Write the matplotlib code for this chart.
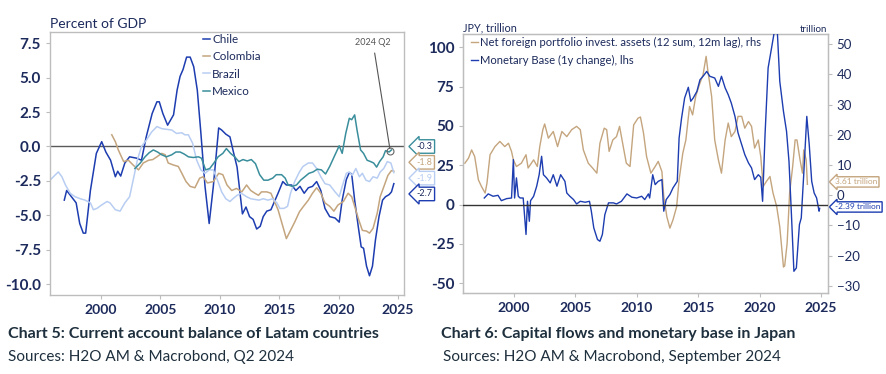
#!/usr/bin/env python3
import matplotlib
matplotlib.use('Agg')
import matplotlib.pyplot as plt
from matplotlib import transforms

plt.rcParams['font.family'] = ['Lato', 'DejaVu Sans']

NAVY = '#1c2a5c'
GRID = '#bdbdbd'
C_CHILE = '#1d3db0'
C_COL = '#c4a57e'
C_BRA = '#b8cdf2'
C_MEX = '#3a8e9c'

# ---- chart 5: current account, % of GDP ----
chile_x = [1996.9, 1997.1, 1997.5, 1997.9, 1998.2, 1998.5, 1998.7, 1999.1, 1999.6, 2000.05,
           2000.4, 2000.8, 2001.2, 2001.4, 2001.65, 2002.0, 2002.4, 2003.0, 2003.4, 2003.8,
           2004.3, 2004.7, 2004.9, 2005.2, 2005.6, 2006.1, 2006.4, 2006.65, 2006.9, 2007.2,
           2007.5, 2007.8, 2008.1, 2008.4, 2008.75, 2009.1, 2009.45, 2009.9, 2010.15, 2010.5,
           2010.85, 2011.1, 2011.45, 2011.7, 2011.9, 2012.2, 2012.5, 2012.8, 2013.1, 2013.4,
           2013.65, 2013.95, 2014.3, 2014.55, 2014.9, 2015.3, 2015.6, 2016.05, 2016.4, 2016.75,
           2017.1, 2017.45, 2017.8, 2018.15, 2018.5, 2018.85, 2019.25, 2019.7, 2020.05, 2020.3,
           2020.65, 2020.9, 2021.1, 2021.35, 2021.65, 2021.9, 2022.1, 2022.35, 2022.6, 2022.85,
           2023.1, 2023.4, 2023.7, 2023.95, 2024.25, 2024.45, 2024.65]
chile_y = [-3.9, -3.2, -3.65, -4.1, -5.6, -6.3, -6.3, -3.2, -0.5, 0.35,
           -0.4, -1.0, -2.2, -1.8, -2.15, -1.2, -0.75, -0.85, -1.0, 0.7,
           2.4, 3.25, 3.25, 2.4, 1.55, 2.3, 4.1, 5.1, 5.6, 6.5,
           6.5, 5.8, 4.1, 1.0, -2.9, -5.6, -2.9, 1.35, 1.2, 0.9,
           0.7, -0.25, -1.5, -3.4, -4.9, -4.4, -5.1, -5.3, -6.0, -5.8,
           -5.1, -4.7, -4.6, -4.1, -3.4, -2.55, -2.8, -2.8, -3.2, -2.9,
           -3.4, -3.0, -2.9, -2.55, -3.2, -4.5, -5.1, -5.2, -5.5, -3.9,
           -2.4, -1.9, -2.0, -3.9, -5.8, -7.3, -7.4, -8.7, -9.4, -8.7,
           -6.8, -5.1, -3.9, -3.65, -3.5, -3.3, -2.7]

colombia_x = [2000.9, 2001.2, 2001.45, 2001.9, 2002.3, 2002.7, 2003.15, 2003.55, 2004.0, 2004.35,
              2004.7, 2005.1, 2005.4, 2005.65, 2006.1, 2006.5, 2006.8, 2007.15, 2007.5, 2007.9,
              2008.3, 2008.6, 2008.95, 2009.45, 2009.9, 2010.25, 2010.6, 2011.0, 2011.4, 2011.85,
              2012.25, 2012.6, 2012.95, 2013.25, 2013.5, 2013.95, 2014.3, 2014.6, 2014.9, 2015.3,
              2015.6, 2015.95, 2016.3, 2016.7, 2017.0, 2017.45, 2017.8, 2018.15, 2018.5, 2018.85,
              2019.25, 2019.6, 2019.95, 2020.4, 2020.8, 2021.1, 2021.35, 2021.7, 2022.0, 2022.35,
              2022.6, 2022.9, 2023.25, 2023.5, 2023.9, 2024.15, 2024.45, 2024.65]
colombia_y = [0.85, 0.35, -0.25, -1.1, -1.0, -1.35, -1.7, -1.2, -1.0, -0.95,
              -0.75, -0.5, -0.6, -1.2, -1.35, -1.45, -1.95, -2.55, -2.9, -3.0,
              -2.3, -2.2, -2.65, -2.55, -1.95, -2.05, -2.8, -3.2, -3.05, -3.3,
              -2.8, -3.2, -3.4, -3.55, -3.3, -3.3, -3.4, -4.0, -4.6, -5.8,
              -6.7, -6.1, -5.5, -4.75, -4.4, -3.9, -3.4, -3.0, -3.4, -4.1,
              -4.35, -4.7, -4.25, -4.0, -3.4, -3.65, -4.35, -5.35, -6.1, -6.15,
              -6.3, -5.95, -4.85, -3.65, -2.7, -2.1, -1.75, -1.8]

brazil_x = [1995.7, 1996.1, 1996.4, 1996.7, 1997.0, 1997.4, 1997.8, 1998.25, 1998.65, 1999.1,
            1999.35, 1999.65, 2000.05, 2000.5, 2000.75, 2001.2, 2001.6, 2002.0, 2002.4, 2002.7,
            2003.05, 2003.4, 2003.8, 2004.25, 2004.7, 2005.1, 2005.5, 2005.95, 2006.35, 2006.8,
            2007.05, 2007.35, 2007.7, 2008.05, 2008.4, 2008.75, 2009.1, 2009.45, 2009.8, 2010.15,
            2010.5, 2010.85, 2011.1, 2011.45, 2011.8, 2012.25, 2012.6, 2012.95, 2013.3, 2013.65,
            2014.05, 2014.45, 2014.8, 2015.05, 2015.4, 2015.7, 2015.95, 2016.3, 2016.7, 2017.0,
            2017.45, 2017.8, 2018.15, 2018.5, 2018.85, 2019.25, 2019.7, 2020.05, 2020.3, 2020.65,
            2020.9, 2021.15, 2021.45, 2021.75, 2022.0, 2022.3, 2022.6, 2022.9, 2023.25, 2023.5,
            2023.8, 2024.1, 2024.4, 2024.65]
brazil_y = [-2.45, -2.1, -1.85, -2.2, -2.8, -3.4, -3.65, -3.8, -3.9, -4.1,
            -4.6, -4.5, -4.25, -4.0, -4.1, -4.6, -4.7, -4.1, -3.65, -2.45,
            -1.0, 0.0, 0.45, 1.05, 1.45, 1.3, 1.25, 1.2, 0.95, 1.0,
            0.85, 0.85, 0.25, -1.0, -1.7, -1.95, -1.7, -1.7, -2.45, -3.3,
            -3.8, -4.0, -3.8, -3.55, -3.4, -3.65, -3.8, -3.85, -3.9, -3.8,
            -3.9, -3.8, -4.1, -4.5, -4.5, -4.35, -3.4, -2.55, -1.85, -1.45,
            -1.2, -1.2, -1.6, -2.2, -2.7, -2.8, -3.3, -3.65, -2.9, -1.95,
            -1.85, -2.1, -1.6, -2.2, -1.95, -2.45, -2.55, -2.2, -2.3, -1.85,
            -1.6, -1.1, -1.2, -1.9]

mexico_x = [2002.85, 2003.3, 2003.7, 2004.05, 2004.4, 2004.75, 2005.1, 2005.5, 2005.95, 2006.3,
            2006.65, 2007.0, 2007.35, 2007.75, 2008.2, 2008.45, 2008.8, 2009.15, 2009.5, 2009.85,
            2010.25, 2010.55, 2010.9, 2011.25, 2011.6, 2011.95, 2012.3, 2012.65, 2013.0, 2013.35,
            2013.7, 2014.05, 2014.45, 2014.75, 2015.2, 2015.5, 2015.75, 2016.1, 2016.45, 2016.8,
            2017.15, 2017.5, 2017.85, 2018.2, 2018.55, 2018.9, 2019.25, 2019.7, 2020.05, 2020.3,
            2020.6, 2020.9, 2021.1, 2021.35, 2021.55, 2021.85, 2022.1, 2022.4, 2022.7, 2022.95,
            2023.2, 2023.45, 2023.75, 2023.95, 2024.25, 2024.45]
mexico_y = [-1.6, -1.2, -0.75, -0.45, -0.25, -0.4, -0.6, -0.75, -0.6, -0.4,
            -0.4, -0.55, -0.75, -0.8, -0.75, -0.85, -1.7, -1.6, -1.2, -0.75,
            -0.5, -0.15, -0.5, -0.75, -1.1, -0.95, -1.05, -0.95, -1.25, -2.05,
            -2.45, -2.45, -2.3, -2.05, -2.05, -2.3, -2.8, -2.9, -2.8, -2.45,
            -2.2, -1.95, -1.85, -1.65, -1.7, -2.0, -1.45, -0.6, 0.05, -0.5,
            0.95, 2.05, 1.95, 2.3, 1.2, -0.25, -0.5, -1.0, -1.1, -1.2,
            -1.5, -1.1, -0.75, -0.3, -0.4, -0.25]

last_labels_5 = ['-0.3', '-1.8', '-1.9', '-2.7']

# ---- chart 6: Japan, JPY trillion ----
mb_x = [1997.58, 1997.9, 1998.3, 1998.7, 1998.97, 1999.4, 1999.8, 1999.95, 2000.05, 2000.2,
        2000.35, 2000.5, 2000.75, 2000.98, 2001.1, 2001.25, 2001.35, 2001.6, 2001.85, 2002.05,
        2002.25, 2002.4, 2002.65, 2002.95, 2003.2, 2003.5, 2003.8, 2004.15, 2004.3, 2004.55,
        2004.85, 2005.1, 2005.4, 2005.8, 2006.15, 2006.3, 2006.5, 2006.8, 2007.0, 2007.2,
        2007.4, 2007.7, 2008.1, 2008.35, 2008.75, 2009.2, 2009.6, 2010.0, 2010.4, 2010.65,
        2010.95, 2011.05, 2011.3, 2011.5, 2011.75, 2012.05, 2012.2, 2012.4, 2012.7, 2012.95,
        2013.3, 2013.45, 2013.65, 2013.9, 2014.2, 2014.4, 2014.6, 2014.9, 2015.15, 2015.4,
        2015.7, 2015.95, 2016.35, 2016.65, 2016.9, 2017.2, 2017.45, 2017.7, 2018.0, 2018.25,
        2018.55, 2018.8, 2019.1, 2019.35, 2019.6, 2019.9, 2020.1, 2020.25, 2020.45, 2020.7,
        2020.98, 2021.25, 2021.45, 2021.65, 2021.95, 2022.2, 2022.4, 2022.6, 2022.8, 2023.0,
        2023.25, 2023.4, 2023.6, 2023.85, 2024.05, 2024.25, 2024.45, 2024.65, 2024.85, 2024.9]
mb_y = [4.2, 6.8, 5.3, 5.9, 2.5, 3.8, 4.2, 28.6, 4.2, 17.0,
        5.3, 4.2, 4.2, -19.0, 2.1, -10.6, 2.5, 5.3, 11.7, 19.0,
        30.7, 19.0, 17.0, 13.8, 19.0, 11.7, 19.0, 14.8, 7.4, 5.3,
        3.2, 0.4, 2.1, 1.5, 2.1, -4.2, -14.8, -22.2, -23.3, -19.0,
        -6.4, 1.1, 1.1, 0.4, 2.1, 6.8, 4.7, 4.2, 5.3, 3.2,
        6.8, 4.2, 19.0, 12.7, 14.8, 15.9, -4.2, 3.2, 6.4, 10.6,
        14.8, 42.4, 55.0, 67.8, 74.6, 65.7, 67.8, 72.0, 79.4, 81.6,
        84.7, 81.6, 80.5, 75.2, 81.6, 74.2, 69.9, 64.6, 56.1, 45.6,
        38.1, 31.8, 26.5, 23.3, 15.9, 19.0, 17.4, 2.1, 44.5, 86.9,
        99.6, 112.0, 110.0, 78.4, 59.3, 46.6, 27.5, -6.4, -42.4, -40.3,
        -12.7, -8.5, 19.0, 56.1, 38.1, 14.8, 7.4, 4.2, -4.2, -2.39]

nfp_x = [1996.0, 1996.3, 1996.55, 1996.8, 1997.1, 1997.35, 1997.65, 1997.8, 1998.05, 1998.45,
         1998.85, 1999.25, 1999.55, 1999.8, 1999.95, 2000.2, 2000.6, 2000.98, 2001.15, 2001.6,
         2001.9, 2002.1, 2002.35, 2002.5, 2002.8, 2003.2, 2003.55, 2003.9, 2004.3, 2004.7,
         2005.1, 2005.4, 2005.65, 2006.05, 2006.4, 2006.75, 2007.0, 2007.35, 2007.55, 2007.75,
         2008.05, 2008.35, 2008.6, 2008.9, 2009.15, 2009.45, 2009.75, 2010.1, 2010.3, 2010.55,
         2010.8, 2011.15, 2011.5, 2011.75, 2012.05, 2012.2, 2012.45, 2012.7, 2012.95, 2013.25,
         2013.45, 2013.75, 2014.0, 2014.3, 2014.55, 2014.8, 2015.1, 2015.4, 2015.65, 2015.8,
         2016.1, 2016.35, 2016.65, 2016.9, 2017.2, 2017.45, 2017.7, 2018.0, 2018.25, 2018.55,
         2018.8, 2019.1, 2019.35, 2019.6, 2019.9, 2020.1, 2020.3, 2020.55, 2020.85, 2021.1,
         2021.4, 2021.65, 2021.95, 2022.05, 2022.25, 2022.45, 2022.7, 2022.9, 2023.05, 2023.3,
         2023.5, 2023.6, 2023.8, 2023.9]
nfp_y = [10.6, 12.3, 15.0, 12.8, 5.1, 2.9, 0.7, 4.0, 13.4, 16.1,
         17.8, 16.1, 17.2, 14.5, 11.7, 9.5, 10.6, 13.4, 9.0, 11.7,
         9.5, 16.1, 21.7, 23.6, 18.9, 21.1, 16.1, 21.1, 19.4, 21.7,
         22.8, 21.7, 15.0, 10.6, 9.0, 7.3, 17.2, 22.2, 21.7, 14.5,
         18.3, 19.4, 22.8, 16.1, 10.6, 9.5, 23.3, 25.5, 25.9, 20.6,
         12.8, 7.3, 9.5, 11.2, 7.8, -0.4, -7.1, -10.9, -8.2, -3.8,
         5.1, 13.9, 18.3, 29.4, 26.6, 32.7, 36.6, 39.9, 46.0, 41.0,
         32.7, 18.3, 11.7, 7.3, 18.3, 23.9, 19.4, 21.1, 26.1, 26.1,
         22.2, 24.4, 22.8, 15.6, 18.3, 12.8, 2.9, 4.5, 6.2, 0.7,
         -3.8, -10.5, -23.8, -23.4, -15.9, 0.7, 9.5, 18.3, 18.3, 11.7,
         7.3, 15.0, 11.7, 3.61]

years = [2000, 2005, 2010, 2015, 2020, 2025]


def style_box(ax):
    for s in ax.spines.values():
        s.set_color(GRID)
        s.set_linewidth(1.0)
    ax.tick_params(axis='both', colors=GRID, labelcolor=NAVY, length=3, width=0.8)
    ax.set_xticks(years)
    ax.set_xticklabels([str(y) for y in years], fontsize=10, fontweight='bold')


fig = plt.figure(figsize=(8.87, 3.74), dpi=100)

# ------------ chart 5 ------------
ax1 = fig.add_axes([0.0564, 0.2112, 0.399, 0.703])
style_box(ax1)
ax1.plot(chile_x, chile_y, color=C_CHILE, lw=1.1, label='Chile')
ax1.plot(colombia_x, colombia_y, color=C_COL, lw=1.1, label='Colombia')
ax1.plot(brazil_x, brazil_y, color=C_BRA, lw=1.1, label='Brazil')
ax1.plot(mexico_x, mexico_y, color=C_MEX, lw=1.1, label='Mexico')
ax1.axhline(0, color='#5a5a5a', lw=1.0, zorder=1)
ax1.set_xlim(1995.7, 2025.5)
ax1.set_ylim(-10.8, 8.32)
yt = [7.5, 5.0, 2.5, 0.0, -2.5, -5.0, -7.5, -10.0]
ax1.set_yticks(yt)
ax1.set_yticklabels([f'{v:.1f}' for v in yt], fontsize=11, fontweight='bold')
leg = ax1.legend(loc='upper left', bbox_to_anchor=(0.41, 1.025), frameon=False, fontsize=8.4,
                 handlelength=0.6, handletextpad=0.15, labelspacing=0.55, borderpad=0.2)
for t in leg.get_texts():
    t.set_color(NAVY)
fig.text(0.0564, 0.925, 'Percent of GDP', fontsize=10, color=NAVY)

ax1.annotate('2024 Q2', xy=(mexico_x[-2] + 0.1, mexico_y[-2] + 0.05), xytext=(2022.9, 7.2),
             fontsize=6.5, color='#555555', ha='center', va='bottom',
             arrowprops=dict(arrowstyle='-', color='#555555', lw=0.8))
ax1.plot([mexico_x[-2] + 0.1], [mexico_y[-2] + 0.05], marker='o', ms=5, mfc='none',
         mec='#666666', mew=0.8)

tr1 = transforms.blended_transform_factory(ax1.transAxes, ax1.transData)
box_y = [0.0, -1.15, -2.3, -3.45]
box_cols = [C_MEX, C_COL, C_BRA, C_CHILE]
txt_cols = [NAVY, C_COL, C_BRA, NAVY]
for lab, by, bc, tc in zip(last_labels_5, box_y, box_cols, txt_cols):
    ax1.text(1.035, by, lab, transform=tr1, fontsize=6.5, color=tc, va='center', ha='left',
             clip_on=False, bbox=dict(boxstyle='larrow,pad=0.25', fc='white', ec=bc, lw=1.0))

# ------------ chart 6 ------------
ax2 = fig.add_axes([0.5223, 0.2158, 0.4108, 0.6925])
style_box(ax2)
ax3 = ax2.twinx()
for s in ax3.spines.values():
    s.set_color(GRID)
ax3.tick_params(axis='y', colors=GRID, labelcolor=NAVY, length=3, width=0.8, labelsize=9.5)

ax2.plot(mb_x, mb_y, color=C_CHILE, lw=1.0, zorder=3)
ax3.plot(nfp_x, nfp_y, color=C_COL, lw=1.0)
ax2.axhline(0, color='#333333', lw=1.0, zorder=4)
ax2.set_zorder(ax3.get_zorder() + 1)
ax2.patch.set_visible(False)
ax2.set_xlim(1995.87, 2025.55)
ax2.set_ylim(-56.4, 108.3)
ax3.set_ylim(-32.5, 53.3)
ax2.set_yticks([100, 75, 50, 25, 0, -25, -50])
ax2.set_yticklabels(['100', '75', '50', '25', '0', '-25', '-50'], fontsize=11, fontweight='bold')
ax3.set_yticks([50, 40, 30, 20, 10, 0, -10, -20, -30])

h1, = ax2.plot([], [], color=C_COL, lw=1.0)
h2, = ax2.plot([], [], color=C_CHILE, lw=1.0)
leg2 = ax2.legend([h1, h2], ['Net foreign portfolio invest. assets (12 sum, 12m lag), rhs',
                             'Monetary Base (1y change), lhs'],
                  loc='upper left', bbox_to_anchor=(0.0, 1.02), frameon=False, fontsize=8.1,
                  handlelength=0.6, handletextpad=0.15, labelspacing=0.6, borderpad=0.2)
for t in leg2.get_texts():
    t.set_color(NAVY)
fig.text(0.5223, 0.915, 'JPY, trillion', fontsize=7.8, color=NAVY)
fig.text(0.933, 0.915, 'trillion', fontsize=7, color=NAVY, ha='right')

tr3 = transforms.blended_transform_factory(ax3.transAxes, ax3.transData)
ax3.text(1.02, 4.4, '3.61 trillion', transform=tr3, fontsize=6, color=C_COL, va='center',
         ha='left', clip_on=False, bbox=dict(boxstyle='larrow,pad=0.2', fc='white', ec=C_COL, lw=1.0))
ax3.text(1.02, -3.9, '-2.39 trillion', transform=tr3, fontsize=6, color=C_CHILE, va='center',
         ha='left', clip_on=False, bbox=dict(boxstyle='larrow,pad=0.2', fc='white', ec=C_CHILE, lw=1.0))

# ------------ captions ------------
fig.text(0.009, 0.095, 'Chart 5: Current account balance of Latam countries', fontsize=11.5,
         fontweight='bold', color='#1e2f3d')
fig.text(0.009, 0.035, 'Sources: H2O AM & Macrobond, Q2 2024', fontsize=11, color='#1e2f3d')
fig.text(0.497, 0.095, 'Chart 6: Capital flows and monetary base in Japan', fontsize=11.5,
         fontweight='bold', color='#1e2f3d')
fig.text(0.500, 0.035, 'Sources: H2O AM & Macrobond, September 2024', fontsize=11, color='#1e2f3d')

fig.savefig('out.png', dpi=100)
